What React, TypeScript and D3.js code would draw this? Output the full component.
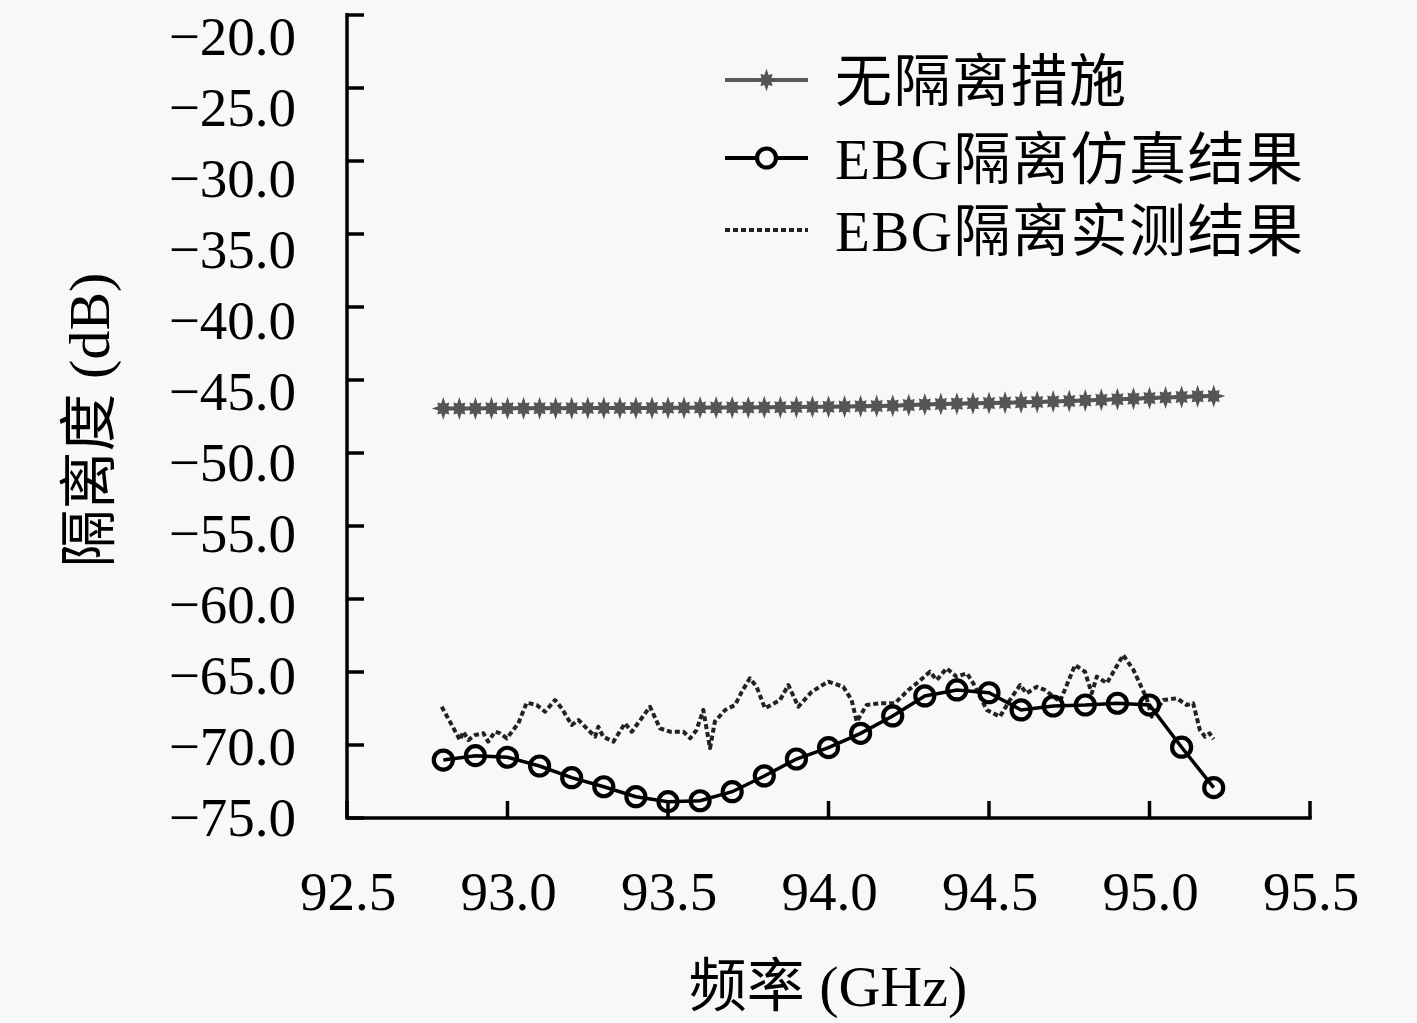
import React from 'react';
import * as d3 from 'd3';

// ---- data ----
const yTicks = [-20, -25, -30, -35, -40, -45, -50, -55, -60, -65, -70, -75];
const xTicks = [92.5, 93.0, 93.5, 94.0, 94.5, 95.0, 95.5];

const noIsoFreq = [
  92.8, 92.85, 92.9, 92.95, 93.0, 93.05, 93.1, 93.15, 93.2, 93.25, 93.3, 93.35, 93.4, 93.45, 93.5,
  93.55, 93.6, 93.65, 93.7, 93.75, 93.8, 93.85, 93.9, 93.95, 94.0, 94.05, 94.1, 94.15, 94.2, 94.25,
  94.3, 94.35, 94.4, 94.45, 94.5, 94.55, 94.6, 94.65, 94.7, 94.75, 94.8, 94.85, 94.9, 94.95, 95.0,
  95.05, 95.1, 95.15, 95.2,
];
const noIsoDb = [
  -46.95, -46.95, -46.95, -46.94, -46.94, -46.94, -46.93, -46.93, -46.93, -46.92, -46.92, -46.92,
  -46.91, -46.91, -46.9, -46.9, -46.89, -46.89, -46.88, -46.88, -46.87, -46.86, -46.85, -46.84,
  -46.83, -46.82, -46.8, -46.78, -46.76, -46.72, -46.68, -46.65, -46.62, -46.6, -46.58, -46.55,
  -46.53, -46.5, -46.47, -46.44, -46.4, -46.36, -46.32, -46.28, -46.24, -46.2, -46.16, -46.12, -46.1,
];

const simFreq = [
  92.8, 92.9, 93.0, 93.1, 93.2, 93.3, 93.4, 93.5, 93.6, 93.7, 93.8, 93.9, 94.0, 94.1, 94.2, 94.3,
  94.4, 94.5, 94.6, 94.7, 94.8, 94.9, 95.0, 95.1, 95.2,
];
const simDb = [
  -71.03, -70.73, -70.84, -71.44, -72.24, -72.86, -73.54, -73.88, -73.82, -73.2, -72.12, -70.96,
  -70.18, -69.2, -68.01, -66.64, -66.23, -66.42, -67.6, -67.33, -67.26, -67.14, -67.26, -70.15, -72.92,
];

const measFreq = [
  92.795, 92.852, 92.862, 92.878, 92.899, 92.925, 92.94, 92.961, 92.977, 92.998, 93.034, 93.06,
  93.091, 93.117, 93.148, 93.169, 93.2, 93.221, 93.247, 93.273, 93.283, 93.298, 93.33, 93.366,
  93.387, 93.444, 93.475, 93.506, 93.548, 93.569, 93.589, 93.61, 93.631, 93.646, 93.678, 93.709,
  93.73, 93.755, 93.776, 93.802, 93.849, 93.875, 93.906, 93.948, 93.999, 94.046, 94.072, 94.088,
  94.119, 94.16, 94.207, 94.249, 94.275, 94.316, 94.337, 94.368, 94.399, 94.431, 94.451, 94.493,
  94.534, 94.565, 94.597, 94.617, 94.649, 94.674, 94.721, 94.768, 94.799, 94.82, 94.836, 94.867,
  94.918, 94.95, 94.991, 95.007, 95.043, 95.085, 95.116, 95.136, 95.157, 95.173, 95.187, 95.2,
];
const measDb = [
  -67.38, -69.66, -69.09, -69.66, -69.32, -69.2, -69.77, -69.09, -69.2, -69.54, -68.51, -67.1,
  -67.26, -67.72, -66.92, -67.49, -68.63, -68.29, -68.86, -69.43, -68.75, -69.43, -69.77, -68.51,
  -69.09, -67.38, -68.86, -69.09, -69.09, -69.54, -68.97, -67.6, -70.21, -68.4, -67.6, -67.26,
  -66.35, -65.43, -66.01, -67.49, -66.92, -65.89, -67.38, -66.35, -65.66, -66.01, -66.92, -68.4,
  -67.26, -67.14, -67.14, -66.23, -65.77, -64.98, -65.55, -64.75, -65.32, -65.09, -65.77, -67.6,
  -68.06, -66.92, -65.89, -66.46, -66.01, -66.23, -67.03, -64.52, -64.98, -66.46, -65.32, -65.77,
  -63.84, -64.86, -66.8, -68.06, -66.92, -66.8, -67.26, -67.14, -68.97, -69.43, -69.2, -69.6,
];

const legendLabels = ['无隔离措施', 'EBG隔离仿真结果', 'EBG隔离实测结果'];
const xTitle = '频率 (GHz)';
const yTitle = '隔离度 (dB)';

// ---- styling ----
const W = 1417;
const H = 1023;
const FONT = "'Liberation Serif', 'Noto Sans CJK SC', serif";
const AXIS_W = 3.5;
const BG = '#f8f8f8';

function starPath(): string {
  const pts: [number, number][] = [];
  for (let k = 0; k < 16; k++) {
    const a = (k * Math.PI) / 8 - Math.PI / 2;
    let r: number;
    if (k % 2 === 1) r = 5.5;
    else if (k % 4 === 0) r = 11.5;
    else r = 8.5;
    pts.push([r * Math.cos(a), r * Math.sin(a)]);
  }
  return 'M' + pts.map((p) => p[0].toFixed(2) + ',' + p[1].toFixed(2)).join('L') + 'Z';
}

const fmt = (v: number) => (v < 0 ? '\u2212' : '') + Math.abs(v).toFixed(1);

export default function App() {
  const x = d3.scaleLinear().domain([92.5, 95.5]).range([347, 1310]);
  const y = d3.scaleLinear().domain([-75, -20]).range([818, 15]);
  const yLab = d3.scaleLinear().domain([-75, -20]).range([817, 36]);

  const line = d3
    .line<[number, number]>()
    .x((d) => x(d[0]))
    .y((d) => y(d[1]));

  const noIso: [number, number][] = noIsoFreq.map((f, i) => [f, noIsoDb[i]]);
  const sim: [number, number][] = simFreq.map((f, i) => [f, simDb[i]]);
  const meas: [number, number][] = measFreq.map((f, i) => [f, measDb[i]]);
  const star = starPath();

  const legendY = [80, 158, 230];
  const legX0 = 725;
  const legX1 = 808;
  const legMid = (legX0 + legX1) / 2;

  return (
    <svg width={W} height={H} style={{ position: 'absolute', left: 0, top: 0 }} fontFamily={FONT}>
      <rect x={0} y={0} width={W} height={H} fill={BG} />

      {/* no isolation series */}
      <path d={line(noIso) || ''} fill="none" stroke="#5a5a5a" strokeWidth={4} />
      {noIso.map((d, i) => (
        <path key={'s' + i} d={star} transform={`translate(${x(d[0])},${y(d[1])})`} fill="#555" />
      ))}

      {/* measured series */}
      <path
        d={line(meas) || ''}
        fill="none"
        stroke="#222"
        strokeWidth={4}
        strokeDasharray="5,3"
        strokeLinejoin="round"
      />

      {/* simulated series */}
      <path d={line(sim) || ''} fill="none" stroke="#000" strokeWidth={3.5} />
      {sim.map((d, i) => (
        <circle key={'c' + i} cx={x(d[0])} cy={y(d[1])} r={9.5} fill="none" stroke="#000" strokeWidth={4.2} />
      ))}

      {/* axes */}
      <line x1={x(92.5)} x2={x(92.5)} y1={13} y2={y(-75) + AXIS_W / 2} stroke="#000" strokeWidth={AXIS_W} />
      <line x1={x(92.5)} x2={x(95.5) + AXIS_W / 2} y1={y(-75)} y2={y(-75)} stroke="#000" strokeWidth={AXIS_W} />
      {yTicks.map((t) => (
        <g key={'yt' + t}>
          <line x1={x(92.5)} x2={x(92.5) + 17} y1={y(t)} y2={y(t)} stroke="#000" strokeWidth={AXIS_W} />
          <text x={296} y={yLab(t)} dy="0.34em" textAnchor="end" fontSize={55} fill="#000">
            {fmt(t)}
          </text>
        </g>
      ))}
      {xTicks.map((t) => (
        <g key={'xt' + t}>
          <line x1={x(t)} x2={x(t)} y1={y(-75)} y2={y(-75) - 17} stroke="#000" strokeWidth={AXIS_W} />
          <text x={x(t) + 1} y={891} dy="0.34em" textAnchor="middle" fontSize={55} fill="#000">
            {t.toFixed(1)}
          </text>
        </g>
      ))}

      {/* axis titles */}
      <text x={828} y={985} dy="0.36em" textAnchor="middle" fontSize={58} fill="#000">
        {xTitle}
      </text>
      <text transform="translate(88,420) rotate(-90)" dy="0.36em" textAnchor="middle" fontSize={58} fill="#000">
        {yTitle}
      </text>

      {/* legend */}
      <line x1={legX0} x2={legX1} y1={legendY[0]} y2={legendY[0]} stroke="#5a5a5a" strokeWidth={4} />
      <path d={star} transform={`translate(${legMid},${legendY[0]})`} fill="#555" />
      <line x1={legX0} x2={legX1} y1={legendY[1]} y2={legendY[1]} stroke="#000" strokeWidth={4} />
      <circle cx={legMid} cy={legendY[1]} r={9.5} fill={BG} stroke="#000" strokeWidth={4.2} />
      <line
        x1={legX0}
        x2={legX1}
        y1={legendY[2]}
        y2={legendY[2]}
        stroke="#222"
        strokeWidth={4}
        strokeDasharray="5,3"
      />
      {legendLabels.map((l, i) => (
        <text key={'lg' + i} x={835} y={legendY[i]} dy="0.36em" fontSize={57} letterSpacing={1.5} fill="#000">
          {l}
        </text>
      ))}
    </svg>
  );
}
